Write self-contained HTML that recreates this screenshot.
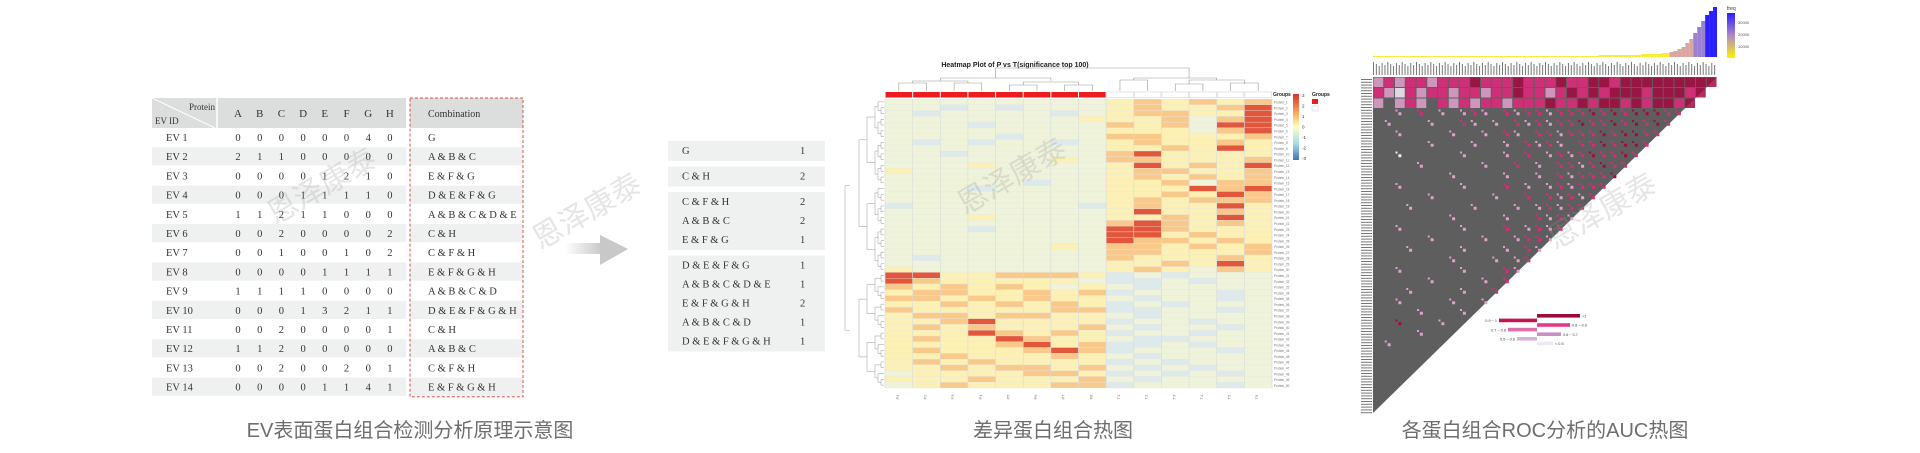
<!DOCTYPE html>
<html><head><meta charset="utf-8">
<style>
html,body{margin:0;padding:0;background:#fff;}
svg{display:block;}
.s{font-family:"Liberation Serif","Noto Serif CJK SC",serif;fill:#333;}
.cap{font-family:"Liberation Sans","Noto Sans CJK SC",sans-serif;fill:#6e6e6e;font-size:20px;}
.wm{font-family:"Liberation Sans","Noto Sans CJK SC",sans-serif;fill:rgba(150,150,150,0.25);font-size:30px;}
</style></head>
<body>
<svg id="root" width="1920" height="453" viewBox="0 0 1920 453" xmlns="http://www.w3.org/2000/svg">
<defs>
<linearGradient id="arrowG" x1="0" x2="1" y1="0" y2="0"><stop offset="0" stop-color="#fff"/><stop offset="1" stop-color="#c8c8c8"/></linearGradient>
<linearGradient id="cbar" x1="0" x2="0" y1="0" y2="1"><stop offset="0" stop-color="#d73027"/><stop offset="0.3" stop-color="#fdae61"/><stop offset="0.5" stop-color="#ffffbf"/><stop offset="0.75" stop-color="#abd9e9"/><stop offset="1" stop-color="#4575b4"/></linearGradient>
<linearGradient id="fbar" x1="0" x2="0" y1="0" y2="1"><stop offset="0" stop-color="#2a1fff"/><stop offset="0.5" stop-color="#b088c8"/><stop offset="1" stop-color="#fff200"/></linearGradient>
</defs>
<g id="leftTable"></g>
<g id="arrow">
<rect x="565" y="243" width="37" height="11" fill="url(#arrowG)"/>
<polygon points="600,235 628,249 600,265" fill="#c8c8c8"/>
</g>
<g id="midTable"></g>
<g id="heat"></g>
<g id="roc"></g>
<text class="cap" x="410" y="437" text-anchor="middle">EV表面蛋白组合检测分析原理示意图</text>
<text class="cap" x="1053" y="437" text-anchor="middle">差异蛋白组合热图</text>
<text class="cap" x="1545" y="437" text-anchor="middle">各蛋白组合ROC分析的AUC热图</text>
<g>
<text class="wm" transform="translate(275,225) rotate(-30)">恩泽康泰</text>
<text class="wm" transform="translate(540,250) rotate(-30)">恩泽康泰</text>
<text class="wm" transform="translate(965,215) rotate(-30)">恩泽康泰</text>
<text class="wm" transform="translate(1555,250) rotate(-30)">恩泽康泰</text>
</g>
</svg>
<script>
const NS="http://www.w3.org/2000/svg";
function mk(p,tag,a){const e=document.createElementNS(NS,tag);for(const k in a)e.setAttribute(k,a[k]);p.appendChild(e);return e;}

// ---------- data ----------
const proteins=["A","B","C","D","E","F","G","H"];
const evIds=["EV 1","EV 2","EV 3","EV 4","EV 5","EV 6","EV 7","EV 8","EV 9","EV 10","EV 11","EV 12","EV 13","EV 14"];
const evCounts=[[0,0,0,0,0,0,4,0],[2,1,1,0,0,0,0,0],[0,0,0,0,1,2,1,0],[0,0,0,1,1,1,1,0],[1,1,2,1,1,0,0,0],[0,0,2,0,0,0,0,2],[0,0,1,0,0,1,0,2],[0,0,0,0,1,1,1,1],[1,1,1,1,0,0,0,0],[0,0,0,1,3,2,1,1],[0,0,2,0,0,0,0,1],[1,1,2,0,0,0,0,0],[0,0,2,0,0,2,0,1],[0,0,0,0,1,1,4,1]];
const evCombos=["G","A & B & C","E & F & G","D & E & F & G","A & B & C & D & E","C & H","C & F & H","E & F & G & H","A & B & C & D","D & E & F & G & H","C & H","A & B & C","C & F & H","E & F & G & H"];
const comboGroups=[["G"],["C & H"],["C & F & H","A & B & C","E & F & G"],["D & E & F & G","A & B & C & D & E","E & F & G & H","A & B & C & D","D & E & F & G & H"]];
const comboCounts=[[1],[2],[2,2,1],[1,1,2,1,1]];
const heatCols=["P1","P2","P3","P4","P5","P6","P7","P8","T1","T2","T3","T4","T5","T6"];
const heatRows=["33333333454545","33232333454456","32333323455446","33333334445356","33323333545366","33333333444356","33332333554445","32323323454454","33333333445464","33233333564444","33333343554445","33343333464546","43333333455445","33333333454545","33333233445355","33323333444656","33333333445465","33333333454555","23333332454464","33333333464454","33343333445464","33333333565454","33323333665444","33333333664544","33333333655454","33333343554545","33333333554445","32333333544454","33333333445464","43333333454354","66445554232333","65444443223233","54545434323333","45544545233323","55454544323323","44545454232333","54444455223323","45545544323333","44564444233233","45454445323323","44465454233233","45446544322333","44445645223233","45444565233323","44544454323333","45454444232333","44545545323233","34444554232323","44454445323333","34544455233323"];
const freqVals=[1,1,1,1,1,1,1,1,1,1,1,1,1,1,1,1,1,1,1,1,1,1,1,1,1,1,1,1,1,1,1,1,1,1,1,1,1,1,1,1,1,1,1,1,1,1,1,1,1,1,1,1,1,1,1,1,1,2,2,2,2,2,2,2,2,2,2,2,3,3,3,3,3,4,4,5,6,8,10,14,18,24,30,36,42,46,50];
const aucRows=["lplpplpppdpppdpppdppddpddddddddd","plwplpplpplppdpplpdpdpdddpdddpd","l.lpl.plplpplpppdppdpddpdpddpd","..l.p.l.lpl.plpplpppdpdpdddpp",".l...l..pl.l.plplppdppdpdpdp","..l....l..l.pl.pplpppdpddpp",".....l...l..l.plpl.ppdpddp","..w.....l...l.p.lplpdppdp","....l.....l..p.l.pplpdpp",".......l....l..l.plpppd","..l.....l...p.l.lplppp",".....l.....l..p.plplp","...l.....l...l.lplpp",".......l....l..plpl","..l.....l...p.lplp",".....l....l..lppl","...l....l...l.pl",".......l...l.lp","..l.....l...pl",".....l....l.p","...l....l..p","..l....l..l","....l...l.","..d...l..","....l...",".l.....","......",".....","....","...","..","."];
const aucLegendLabels=[">1","0.9 ~ 1","0.8 ~ 0.9","0.7 ~ 0.8","0.6 ~ 0.7","0.5 ~ 0.6","< 0.5"];

// ---------- left table ----------
(function(){
const g=document.getElementById('leftTable');
const x0=152,xN=406,bx0=410,bx1=523,hy=98,hh=30,rh=19.2;
const colX=i=>238+i*21.7, rowY=i=>hy+hh+i*rh;
let r=mk(g,'rect',{x:x0,y:hy,width:xN-x0,height:hh,fill:'#dcdddd'});

mk(g,'rect',{x:bx0,y:hy,width:bx1-bx0,height:hh,fill:'#dcdddd'});
mk(g,'line',{x1:217,y1:hy,x2:217,y2:hy+hh+evIds.length*rh,stroke:'#fff','stroke-width':1.5});
mk(g,'line',{x1:x0,y1:hy,x2:215,y2:hy+hh,stroke:'#fff','stroke-width':1});
let t=mk(g,'text',{x:189,y:110,class:'s','font-size':9});t.textContent='Protein';
t=mk(g,'text',{x:155,y:124,class:'s','font-size':9});t.textContent='EV ID';
proteins.forEach((p,i)=>{const e=mk(g,'text',{x:colX(i),y:117,class:'s','font-size':11,'text-anchor':'middle'});e.textContent=p;
});
t=mk(g,'text',{x:428,y:117,class:'s','font-size':10});t.textContent='Combination';
evIds.forEach((id,i)=>{
 const y=rowY(i);
 if(i%2==1){mk(g,'rect',{x:x0,y:y,width:xN-x0,height:rh-1,fill:'#eff0f0'});mk(g,'rect',{x:bx0,y:y,width:bx1-bx0,height:rh-1,fill:'#eff0f0'});}
 const a=mk(g,'text',{x:166,y:y+13,class:'s','font-size':10.5});a.textContent=id;
 
 evCounts[i].forEach((v,j)=>{const e=mk(g,'text',{x:colX(j),y:y+13,class:'s','font-size':10.5,'text-anchor':'middle'});e.textContent=v;});
 const c=mk(g,'text',{x:428,y:y+13,class:'s','font-size':10.5});c.textContent=evCombos[i];
 
});
const box=mk(g,'rect',{x:bx0,y:hy,width:bx1-bx0,height:hh+evIds.length*rh,fill:'none',stroke:'#e0504a','stroke-width':1,'stroke-dasharray':'3,2'});

})();

// ---------- middle table ----------
(function(){
const g=document.getElementById('midTable');
const x0=668,w=157,rh=19;let y=141;
comboGroups.forEach((grp,gi)=>{
 const r=mk(g,'rect',{x:x0,y:y,width:w,height:grp.length*rh+1,fill:'#eff0f0'});
 
 grp.forEach((c,k)=>{const t=mk(g,'text',{x:682,y:y+k*rh+13,class:'s','font-size':10.5});t.textContent=c;
  const n=mk(g,'text',{x:800,y:y+k*rh+13,class:'s','font-size':10.5});n.textContent=comboCounts[gi][k];});
 y+=grp.length*rh+6.5;
});
})();

// ---------- differential heatmap ----------
(function(){
const g=document.getElementById('heat');
const X0=885,W=387,Y0=99,H=289;
const cw=W/heatCols.length, rh=H/heatRows.length;
const xS=i=>X0+i*cw, yS=i=>Y0+i*rh;
const pal={"0":"#4575b4","1":"#a6c8df","2":"#dde9ea","3":"#eff3da","4":"#fcf0b4","5":"#f9c98c","6":"#e2573c"};
const t=mk(g,'text',{x:1015,y:67,'font-family':'Liberation Sans, sans-serif','font-size':7,'font-weight':'bold','text-anchor':'middle',fill:'#222'});
t.textContent='Heatmap Plot of P vs T(significance top 100)';

heatRows.forEach((row,i)=>{for(let j=0;j<heatCols.length;j++){
 const c=mk(g,'rect',{x:xS(j),y:yS(i),width:cw,height:rh,fill:pal[row[j]],stroke:'#e4e8e2','stroke-width':0.3});
 }
 const l=mk(g,'text',{x:X0+W+2,y:yS(i)+rh*0.8,'font-size':3.2,fill:'#777','font-family':'Liberation Sans, sans-serif'});l.textContent='Protein_'+(i+1);
});
for(let j=0;j<=heatCols.length;j++)mk(g,'line',{x1:xS(j),y1:Y0,x2:xS(j),y2:Y0+H,stroke:'#d8dcd8','stroke-width':0.6});
heatCols.forEach((c,j)=>{
 const b=mk(g,'rect',{x:xS(j)+0.5,y:Y0-7,width:cw-1,height:5.5,fill:c[0]=='P'?'#ee1c1c':'#fff',stroke:c[0]=='P'?'none':'#ccc','stroke-width':0.5});
 
 const l=mk(g,'text',{x:0,y:0,'font-size':4,fill:'#777','font-family':'Liberation Sans, sans-serif',transform:`translate(${xS(j)+cw/2},${Y0+H+9}) rotate(-90)`,'text-anchor':'middle'});l.textContent=c;
});
const dl=(x1,y1,x2,y2)=>mk(g,'path',{d:`M${x1},${y1}V${y2}H${x2}V${y1}`,fill:'none',stroke:'#999','stroke-width':0.6});
const cx=j=>xS(j)+cw/2;
dl(cx(0),Y0-8,cx(1),83);dl(cx(2),Y0-8,cx(3),83);dl(cx(4),Y0-8,cx(5),85);dl(cx(6),Y0-8,cx(7),85);
dl((cx(0)+cx(1))/2,83,(cx(2)+cx(3))/2,81);dl((cx(4)+cx(5))/2,85,(cx(6)+cx(7))/2,82);
dl((cx(0)+cx(3))/2,81,(cx(4)+cx(7))/2,78);
dl(cx(8),Y0-8,cx(9),80);dl(cx(10),Y0-8,cx(11),84);dl(cx(12),Y0-8,cx(13),83);
dl((cx(10)+cx(11))/2,84,(cx(12)+cx(13))/2,80);dl((cx(8)+cx(9))/2,80,(cx(10)+cx(13))/2,78);
dl((cx(0)+cx(7))/2,78,(cx(8)+cx(13))/2,68);
function tree(a,b,depth){if(b-a<=1)return {y:(yS(a)+yS(b))/2,x:X0-1};
 const m=Math.floor((a+b)/2);const L=tree(a,m,depth+1),R=tree(m,b,depth+1);
 const x=Math.min(L.x,R.x)-(depth<2?8:3);
 mk(g,'path',{d:`M${L.x},${L.y}H${x}V${R.y}H${R.x}`,fill:'none',stroke:'#999','stroke-width':0.5});return {x:x,y:(L.y+R.y)/2};}
tree(0,30,0);tree(30,heatRows.length,0);
mk(g,'path',{d:`M${X0-35},${(yS(0)+yS(30))/2}H${X0-40}V${(yS(30)+yS(50))/2}H${X0-35}`,fill:'none',stroke:'#999','stroke-width':0.5});
const cb=mk(g,'rect',{x:1293,y:94,width:6,height:66,fill:'url(#cbar)'});

[3,2,1,0,-1,-2,-3].forEach((v,k)=>{const e=mk(g,'text',{x:1302,y:97+k*10.5,'font-size':4.5,fill:'#333','font-family':'Liberation Sans, sans-serif'});e.textContent=v;});
let e=mk(g,'text',{x:1273,y:96,'font-size':5,'font-weight':'bold',fill:'#222','font-family':'Liberation Sans, sans-serif'});e.textContent='Groups';
e=mk(g,'text',{x:1312,y:96,'font-size':5,'font-weight':'bold',fill:'#222','font-family':'Liberation Sans, sans-serif'});e.textContent='Groups';

mk(g,'rect',{x:1312,y:99,width:6,height:5,fill:'#ee1c1c'});mk(g,'rect',{x:1312,y:106,width:6,height:5,fill:'#fff',stroke:'#ccc','stroke-width':0.5});
})();

// ---------- AUC heatmap ----------
(function(){
const g=document.getElementById('roc');
const X0=1373,Y0=77,W=344,H=336,N=aucRows.length;
const cw=W/N,ch=H/N;
const xS=i=>X0+i*cw,yS=i=>Y0+i*ch;
const tri=mk(g,'polygon',{points:`${X0},${Y0} ${X0+W},${Y0} ${X0},${Y0+H}`,fill:'#5e5e5e'});

const pal={"l":"#e2a0cc","p":"#e0287a","d":"#a3083e","w":"#f4eef6"};
aucRows.forEach((row,i)=>{for(let j=0;j<row.length;j++){const c_=row[j];if(c_=='.')continue;
 let c;
 if(i<3){c=mk(g,'rect',{x:xS(j)+0.5,y:yS(i)+0.5,width:cw-1,height:ch-1,fill:pal[c_],opacity:0.85});}
 else{c=mk(g,'rect',{x:xS(j)+cw/2-1.5,y:yS(i)+ch/2-1.5,width:3,height:3,fill:pal[c_]});
  mk(g,'rect',{x:xS(j)+1,y:yS(i)+1,width:2,height:2,fill:pal[c_]});}
 }});
for(let i=0;i<120;i++){
 const y=Y0+i*H/120+2;mk(g,'rect',{x:1361,y:y,width:11,height:1,fill:'#777'});
 const x=X0+i*W/120;mk(g,'rect',{x:x,y:62+((i*7)%5),width:1,height:13-((i*7)%5),fill:'#777'});
}
const bw=W/freqVals.length,maxF=50;
freqVals.forEach((v,i)=>{const h=v/maxF*50;const t=v/maxF;
 const col=t<0.1?'#f7ec3a':t<0.4?'#d8a8a0':t<0.8?'#9a80d0':'#2a20ff';
 const b=mk(g,'rect',{x:X0+i*bw,y:57-h,width:bw,height:h,fill:col});
 });
const fl=mk(g,'rect',{x:1727,y:13,width:8,height:45,fill:'url(#fbar)'});

let t=mk(g,'text',{x:1727,y:10,'font-size':5,fill:'#333','font-family':'Liberation Sans, sans-serif'});t.textContent='freq';
["30000","20000","10000"].forEach((s,k)=>{const e=mk(g,'text',{x:1738,y:24+k*12,'font-size':4,fill:'#555','font-family':'Liberation Sans, sans-serif'});e.textContent=s;});
const lc=["#9b0a3e","#c8134f","#e8388a","#dd6fae","#c98fc6","#dab3dc","#eeeaf3"];
const lw=[43,38,33,29,24,20,16];
lc.forEach((c,k)=>{const right=k%2==1;const y=314+k*4.6;const x=right?1537-lw[k]:1537;
 const b=mk(g,'rect',{x:x,y:y,width:lw[k],height:3.6,fill:c});
 
 const e=mk(g,'text',{x:right?x-2:x+lw[k]+2,y:y+3.5,'font-size':3.8,fill:'#444','text-anchor':right?'end':'start','font-family':'Liberation Sans, sans-serif'});e.textContent=aucLegendLabels[k];});
})();
</script>
</body></html>
